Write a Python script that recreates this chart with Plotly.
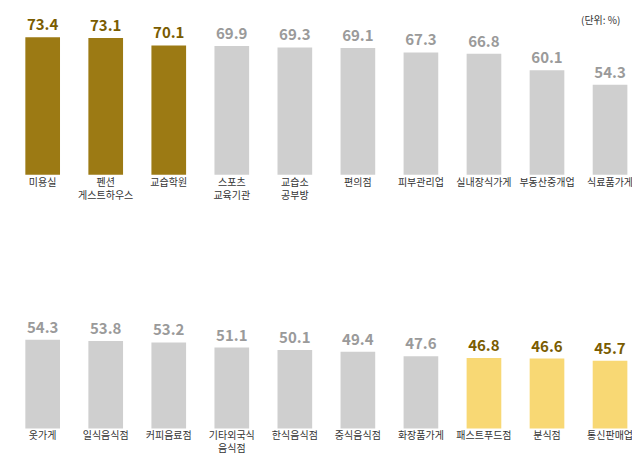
import plotly.graph_objects as go

# 상단 업종
top_labels = ["미용실", "펜션<br>게스트하우스", "교습학원", "스포츠<br>교육기관", "교습소<br>공부방",
              "편의점", "피부관리업", "실내장식가게", "부동산중개업", "식료품가게"]
top_values = [73.4, 73.1, 70.1, 69.9, 69.3, 69.1, 67.3, 66.8, 60.1, 54.3]
top_kind = ["dark", "dark", "dark"] + ["grey"] * 7

# 하단 업종
bot_labels = ["옷가게", "일식음식점", "커피음료점", "기타외국식<br>음식점", "한식음식점",
              "중식음식점", "화장품가게", "패스트푸드점", "분식점", "통신판매업"]
bot_values = [54.3, 53.8, 53.2, 51.1, 50.1, 49.4, 47.6, 46.8, 46.6, 45.7]
bot_kind = ["grey"] * 7 + ["light"] * 3

bar_color = {"dark": "#9c7a14", "grey": "#cfcfcf", "light": "#f8d874"}
text_color = {"dark": "#7a5c00", "grey": "#9a9a9a", "light": "#7a5c00"}

font = "Noto Sans CJK KR"
fig = go.Figure()

for labels, values, kind, ax in [(top_labels, top_values, top_kind, ""),
                                 (bot_labels, bot_values, bot_kind, "2")]:
    fig.add_trace(go.Bar(
        x=list(range(len(labels))), y=values,
        xaxis="x" + ax, yaxis="y" + ax,
        marker=dict(color=[bar_color[k] for k in kind], line_width=0),
        text=[f"<b>{v:.1f}</b>" for v in values],
        textposition="outside", cliponaxis=False,
        textfont=dict(size=15, color=[text_color[k] for k in kind], family=font),
        showlegend=False,
    ))

axis_x = dict(showgrid=False, zeroline=False, showline=False, ticks="",
              range=[-0.55, 9.45], tickmode="array",
              tickfont=dict(size=10, color="#333", family=font), fixedrange=True)
axis_y = dict(range=[18, 76], visible=False, fixedrange=True)

fig.update_layout(
    width=640, height=457,
    margin=dict(l=0, r=0, t=0, b=0),
    plot_bgcolor="white", paper_bgcolor="white",
    bargap=0.45,
    xaxis=dict(axis_x, domain=[0, 0.985], anchor="y",
               tickvals=list(range(10)), ticktext=top_labels),
    yaxis=dict(axis_y, domain=[0.635, 0.95], anchor="x"),
    xaxis2=dict(axis_x, domain=[0, 0.985], anchor="y2",
                tickvals=list(range(10)), ticktext=bot_labels),
    yaxis2=dict(axis_y, domain=[0.08, 0.39], anchor="x2"),
    annotations=[dict(text="(단위: %)", x=0.96, y=0.975, xref="paper", yref="paper",
                      xanchor="right", yanchor="middle", showarrow=False,
                      font=dict(size=10, color="#333", family=font))],
)

fig.write_html("out.html")
